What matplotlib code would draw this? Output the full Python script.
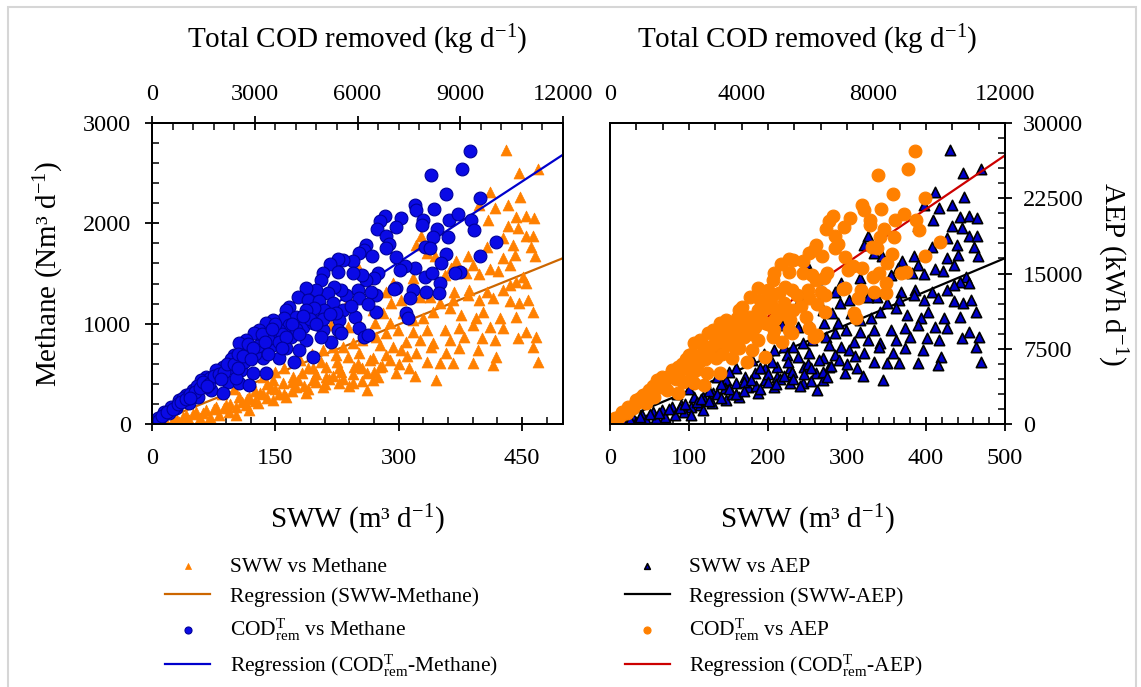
import matplotlib
matplotlib.use('Agg')
import matplotlib.pyplot as plt
from matplotlib.ticker import MultipleLocator
from matplotlib.patches import Rectangle

plt.rcParams['font.family'] = ['Liberation Serif', 'DejaVu Serif']
plt.rcParams['mathtext.fontset'] = 'custom'
plt.rcParams['mathtext.rm'] = 'Liberation Serif'
plt.rcParams['mathtext.it'] = 'Liberation Serif:italic'
plt.rcParams['mathtext.bf'] = 'Liberation Serif:bold'

# SWW flow (m3/d) vs methane (Nm3/d)
sww = [431, 447, 470, 411, 448, 398, 417, 433, 409, 443,
       455, 465, 390, 433, 445, 455, 464, 427, 327, 321,
       334, 344, 407, 439, 461, 466, 441, 385, 370, 390,
       427, 435, 411, 421, 398, 382, 364, 356, 317, 451,
       443, 435, 455, 427, 407, 386, 368, 415, 398, 385,
       366, 350, 338, 326, 303, 293, 285, 291, 447, 435,
       457, 463, 443, 423, 403, 394, 376, 362, 342, 330,
       317, 305, 281, 269, 265, 252, 238, 228, 218, 271,
       289, 427, 411, 390, 374, 356, 334, 317, 299, 285,
       273, 256, 244, 232, 220, 208, 467, 445, 455, 417,
       401, 380, 362, 342, 326, 309, 293, 277, 463, 419,
       396, 374, 358, 340, 321, 303, 285, 269, 252, 238,
       224, 469, 415, 390, 366, 350, 334, 313, 297, 277,
       261, 246, 228, 212, 196, 346, 320, 269, 262, 244,
       228, 212, 196, 183, 171, 175, 159, 147, 145, 163,
       147, 131, 118, 106, 187, 208, 129, 114, 102, 90,
       78, 66, 54, 41, 29, 17, 94, 82, 70, 58,
       45, 33, 102, 118, 248, 262, 240, 160, 180, 195,
       205, 150, 135, 120, 100, 85, 125, 140, 155, 170,
       185, 200, 215, 230, 250, 265, 225, 190, 10, 25,
       38, 50, 62, 75, 88, 95, 110, 115, 125, 135,
       140, 150, 160, 170, 178, 190, 200, 210, 220, 232,
       245, 255, 270, 280, 290, 300, 310, 240, 255, 275]
methane_sww = [2727, 2501, 2541, 2308, 2262, 2178, 2152, 2185, 2035, 2062,
               2075, 2052, 1969, 1969, 1952, 1876, 1869, 1853, 1876, 1786,
               1703, 1670, 1769, 1786, 1769, 1670, 1686, 1670, 1620, 1586,
               1653, 1586, 1543, 1520, 1497, 1503, 1553, 1487, 1453, 1470,
               1420, 1387, 1404, 1337, 1320, 1337, 1320, 1254, 1237, 1287,
               1237, 1204, 1270, 1270, 1237, 1404, 1320, 1204, 1204, 1221,
               1237, 1121, 1071, 1054, 1121, 1054, 1088, 1154, 1121, 1054,
               1038, 1104, 1104, 1137, 1204, 1004, 971, 938, 988, 1004,
               1004, 954, 971, 988, 954, 938, 938, 921, 938, 904,
               871, 838, 805, 771, 771, 738, 871, 855, 921, 838,
               855, 871, 838, 805, 838, 822, 771, 788, 771, 672,
               738, 755, 705, 771, 705, 738, 688, 655, 705, 672,
               688, 622, 589, 605, 605, 605, 622, 555, 506, 572,
               506, 572, 555, 572, 555, 439, 480, 439, 339, 406,
               406, 472, 439, 506, 472, 372, 406, 439, 356, 273,
               239, 306, 273, 273, 306, 372, 206, 190, 173, 190,
               173, 140, 123, 90, 57, 23, 123, 90, 73, 57,
               40, 23, 90, 140, 1603, 1450, 1250, 560, 640, 700,
               620, 520, 470, 420, 350, 300, 330, 400, 300, 420,
               380, 500, 450, 520, 600, 640, 620, 560, 20, 40,
               70, 100, 110, 150, 160, 200, 220, 250, 230, 300,
               260, 350, 300, 330, 440, 350, 420, 400, 480, 450,
               500, 560, 520, 580, 640, 600, 680, 380, 430, 470]
# same samples, AEP (kWh/d)
aep_sww = [27270, 25010, 25410, 23080, 22620, 21780, 21520, 21850, 20350, 20620,
           20750, 20520, 19690, 19690, 19520, 18760, 18690, 18530, 18760, 17860,
           17030, 16700, 17690, 17860, 17690, 16700, 16860, 16700, 16200, 15860,
           16530, 15860, 15430, 15200, 14970, 15030, 15530, 14870, 14530, 14700,
           14200, 13870, 14040, 13370, 13200, 13370, 13200, 12540, 12370, 12870,
           12370, 12040, 12700, 12700, 12370, 14040, 13200, 12040, 12040, 12210,
           12370, 11210, 10710, 10540, 11210, 10540, 10880, 11540, 11210, 10540,
           10380, 11040, 11040, 11370, 12040, 10040, 9710, 9380, 9880, 10040,
           10040, 9540, 9710, 9880, 9540, 9380, 9380, 9210, 9380, 9040,
           8710, 8380, 8050, 7710, 7710, 7380, 8710, 8550, 9210, 8380,
           8550, 8710, 8380, 8050, 8380, 8220, 7710, 7880, 7710, 6720,
           7380, 7550, 7050, 7710, 7050, 7380, 6880, 6550, 7050, 6720,
           6880, 6220, 5890, 6050, 6050, 6050, 6220, 5550, 5060, 5720,
           5060, 5720, 5550, 5720, 5550, 4390, 4800, 4390, 3390, 4060,
           4060, 4720, 4390, 5060, 4720, 3720, 4060, 4390, 3560, 2730,
           2390, 3060, 2730, 2730, 3060, 3720, 2060, 1900, 1730, 1900,
           1730, 1400, 1230, 900, 570, 230, 1230, 900, 730, 570,
           400, 230, 900, 1400, 16030, 14500, 12500, 5600, 6400, 7000,
           6200, 5200, 4700, 4200, 3500, 3000, 3300, 4000, 3000, 4200,
           3800, 5000, 4500, 5200, 6000, 6400, 6200, 5600, 200, 400,
           700, 1000, 1100, 1500, 1600, 2000, 2200, 2500, 2300, 3000,
           2600, 3500, 3000, 3300, 4400, 3500, 4200, 4000, 4800, 4500,
           5000, 5600, 5200, 5800, 6400, 6000, 6800, 3800, 4300, 4700]

# total COD removed (kg/d) vs methane
cod = [9272, 8133, 9058, 8591, 9565, 7665, 7714, 8230, 7276, 6789,
       6643, 7909, 7890, 8659, 8932, 9302, 9399, 7110, 6574, 6837,
       8328, 8640, 8201, 10032, 6915, 6837, 6253, 6185, 6428, 7958,
       8103, 9565, 8571, 7129, 6058, 5863, 5571, 5425, 5201, 8425,
       7665, 7392, 7227, 8981, 8834, 7977, 8172, 8396, 8006, 8376,
       7617, 7539, 7129, 7080, 6594, 6496, 6253, 6136, 5863, 5425,
       4987, 4938, 6545, 6399, 6009, 6058, 5668, 5522, 5327, 5133,
       4792, 4500, 4256, 4548, 4889, 5279, 5571, 6545, 7422, 7471,
       5941, 5474, 5377, 5036, 4743, 4500, 4013, 3916, 4208, 3867,
       3526, 3331, 4013, 4402, 4695, 4987, 5425, 6058, 6204, 6302,
       5522, 5230, 4938, 4500, 4061, 3721, 3477, 3136, 2990, 2747,
       2552, 2406, 2844, 3185, 3526, 3916, 4305, 4695, 3234, 3721,
       4159, 2065, 2308, 2600, 2941, 3331, 1870, 1578, 2211, 2552,
       2844, 1188, 1432, 993, 799, 555, 360, 166, 19, 1724,
       2065, 2455, 1578, 1334, 1091, 701, 506, 214, 3000, 3400,
       3800, 4200, 2700, 3600, 4600, 5000, 5800, 6300, 1300, 1700,
       900, 2300, 3100, 300, 450, 600, 750, 850, 1000, 1100,
       1250, 1400, 1500, 1650, 1800, 1950, 2100, 2200, 2400, 2500,
       2650, 2800, 2950, 3200, 3300, 3500, 3700, 3900, 4100, 4300,
       4400, 4800, 5200, 1100, 1600, 2000, 2500, 2900, 3400, 3800]
methane_cod = [2717, 2485, 2541, 2292, 2252, 2185, 2135, 2145, 2052, 2069,
               2019, 2035, 1986, 2035, 2095, 2035, 1936, 1962, 1942, 1869,
               1942, 1859, 1859, 1813, 1793, 1753, 1786, 1736, 1670, 1763,
               1753, 1676, 1693, 1660, 1703, 1620, 1630, 1643, 1593, 1603,
               1553, 1570, 1537, 1510, 1503, 1470, 1503, 1410, 1320, 1304,
               1337, 1254, 1360, 1347, 1503, 1453, 1437, 1487, 1503, 1510,
               1503, 1437, 1287, 1320, 1337, 1254, 1287, 1337, 1370, 1310,
               1337, 1354, 1270, 1237, 1221, 1204, 1137, 1121, 1104, 1054,
               1071, 1038, 1104, 1137, 1154, 1137, 1171, 1137, 1071, 1054,
               1038, 1004, 988, 971, 1004, 938, 938, 954, 871, 888,
               904, 822, 871, 838, 871, 938, 921, 938, 904, 838,
               805, 688, 738, 805, 788, 755, 738, 672, 655, 655,
               622, 572, 555, 539, 506, 506, 539, 472, 422, 406,
               389, 339, 439, 289, 239, 173, 123, 57, 7, 339,
               306, 456, 372, 273, 206, 156, 106, 40, 700, 850,
               900, 950, 620, 1000, 1050, 1050, 1180, 1200, 380, 460,
               260, 650, 780, 80, 120, 150, 200, 220, 250, 300,
               320, 360, 420, 400, 480, 500, 520, 600, 600, 700,
               680, 800, 760, 900, 820, 950, 820, 870, 1000, 900,
               1080, 1000, 1100, 260, 380, 450, 560, 650, 700, 760]
aep_cod = [27170, 24850, 25410, 22920, 22520, 21850, 21350, 21450, 20520, 20690,
           20190, 20350, 19860, 20350, 20950, 20350, 19360, 19620, 19420, 18690,
           19420, 18590, 18590, 18130, 17930, 17530, 17860, 17360, 16700, 17630,
           17530, 16760, 16930, 16600, 17030, 16200, 16300, 16430, 15930, 16030,
           15530, 15700, 15370, 15100, 15030, 14700, 15030, 14100, 13200, 13040,
           13370, 12540, 13600, 13470, 15030, 14530, 14370, 14870, 15030, 15100,
           15030, 14370, 12870, 13200, 13370, 12540, 12870, 13370, 13700, 13100,
           13370, 13540, 12700, 12370, 12210, 12040, 11370, 11210, 11040, 10540,
           10710, 10380, 11040, 11370, 11540, 11370, 11710, 11370, 10710, 10540,
           10380, 10040, 9880, 9710, 10040, 9380, 9380, 9540, 8710, 8880,
           9040, 8220, 8710, 8380, 8710, 9380, 9210, 9380, 9040, 8380,
           8050, 6880, 7380, 8050, 7880, 7550, 7380, 6720, 6550, 6550,
           6220, 5720, 5550, 5390, 5060, 5060, 5390, 4720, 4220, 4060,
           3890, 3390, 4390, 2890, 2390, 1730, 1230, 570, 70, 3390,
           3060, 4560, 3720, 2730, 2060, 1560, 1060, 400, 7000, 8500,
           9000, 9500, 6200, 10000, 10500, 10500, 11800, 12000, 3800, 4600,
           2600, 6500, 7800, 800, 1200, 1500, 2000, 2200, 2500, 3000,
           3200, 3600, 4200, 4000, 4800, 5000, 5200, 6000, 6000, 7000,
           6800, 8000, 7600, 9000, 8200, 9500, 8200, 8700, 10000, 9000,
           10800, 10000, 11000, 2600, 3800, 4500, 5600, 6500, 7000, 7600]

# regression slopes (lines through origin)
slope_sww_methane = 3.306
slope_cod_methane = 0.2237
slope_sww_aep = 33.06
slope_cod_aep = 2.231

W, H = 1141, 687
fig = plt.figure(figsize=(W / 100, H / 100), dpi=100)

orange = '#FF8000'
blue = '#0A0AE6'
tick_fs = 17.5
label_fs = 21

def style_major_minor(axis_obj, major_dir, minor_dir):
    axis_obj.tick_params(which='major', direction=major_dir, length=10 if major_dir == 'inout' else 6,
                         width=1.3, labelsize=tick_fs)
    axis_obj.tick_params(which='minor', direction=minor_dir, length=5, width=1.1)

# ---------------- left panel: methane ----------------
ax1 = fig.add_axes([152 / W, 1 - 424 / H, (563 - 152) / W, (424 - 123) / H])
ax1.set_xlim(0, 500)
ax1.set_ylim(0, 3000)
ax1.xaxis.set_major_locator(MultipleLocator(150))
ax1.xaxis.set_minor_locator(MultipleLocator(30))
ax1.yaxis.set_major_locator(MultipleLocator(1000))
ax1.yaxis.set_minor_locator(MultipleLocator(200))
style_major_minor(ax1, 'inout', 'in')
ax1.tick_params(axis='x', which='major', pad=12)
ax1.tick_params(axis='y', which='major', pad=10)
ax1.tick_params(right=False, top=False, which='both')

l1, = ax1.plot(ax1.get_xlim(), [slope_sww_methane * x for x in ax1.get_xlim()],
               color='#CC6600', lw=1.6, zorder=1)
s1 = ax1.scatter(sww, methane_sww, marker='^', s=62, color=orange, edgecolors=orange,
                 linewidths=0.5, zorder=2)
ax1.set_xlabel('SWW (m³ d$^{-1}$)', fontsize=label_fs, labelpad=25)
ax1.set_ylabel('Methane (Nm³ d$^{-1}$)', fontsize=label_fs, labelpad=12)

ax1t = ax1.twiny()
ax1t.set_xlim(0, 12000)
ax1t.xaxis.set_major_locator(MultipleLocator(3000))
ax1t.xaxis.set_minor_locator(MultipleLocator(600))
style_major_minor(ax1t, 'inout', 'in')
ax1t.tick_params(axis='x', which='major', pad=8)
l2, = ax1t.plot(ax1t.get_xlim(), [slope_cod_methane * x for x in ax1t.get_xlim()],
                color='#0000CC', lw=1.6, zorder=1)
s2 = ax1t.scatter(cod, methane_cod, marker='o', s=85, color=blue, edgecolors='#00009A',
                  linewidths=0.8, zorder=2)
ax1t.set_xlabel('Total COD removed (kg d$^{-1}$)', fontsize=label_fs, labelpad=26)

# ---------------- right panel: AEP ----------------
ax2 = fig.add_axes([610 / W, 1 - 424 / H, (1005 - 610) / W, (424 - 123) / H])
ax2.set_xlim(0, 500)
ax2.set_ylim(0, 30000)
ax2.xaxis.set_major_locator(MultipleLocator(100))
ax2.xaxis.set_minor_locator(MultipleLocator(20))
ax2.yaxis.set_major_locator(MultipleLocator(7500))
ax2.yaxis.set_minor_locator(MultipleLocator(1500))
ax2.yaxis.tick_right()
ax2.yaxis.set_label_position('right')
style_major_minor(ax2, 'inout', 'in')
ax2.tick_params(axis='x', which='major', pad=12)
ax2.tick_params(axis='y', which='major', pad=8)
ax2.tick_params(left=False, top=False, which='both')

l3, = ax2.plot(ax2.get_xlim(), [slope_sww_aep * x for x in ax2.get_xlim()],
               color='black', lw=1.6, zorder=1)
s3 = ax2.scatter(sww, aep_sww, marker='^', s=55, color='#0000CC', edgecolors='black',
                 linewidths=1.2, zorder=2)
ax2.set_xlabel('SWW (m³ d$^{-1}$)', fontsize=label_fs, labelpad=25)
ax2.set_ylabel('AEP (kWh d$^{-1}$)', fontsize=label_fs, rotation=270, va='bottom', labelpad=8)

ax2t = ax2.twiny()
ax2t.set_xlim(0, 12000)
ax2t.xaxis.set_major_locator(MultipleLocator(4000))
ax2t.xaxis.set_minor_locator(MultipleLocator(800))
ax2t.tick_params(which='both', direction='in', length=5, width=1.2, labelsize=tick_fs, pad=13)
l4, = ax2t.plot(ax2t.get_xlim(), [slope_cod_aep * x for x in ax2t.get_xlim()],
                color='#CC0000', lw=1.6, zorder=1)
s4 = ax2t.scatter(cod, aep_cod, marker='o', s=85, color=orange, edgecolors=orange,
                  linewidths=0.8, zorder=2)
ax2t.set_xlabel('Total COD removed (kg d$^{-1}$)', fontsize=label_fs, labelpad=26)

for a in (ax1, ax1t, ax2, ax2t):
    for sp in a.spines.values():
        sp.set_linewidth(1.4)

handles = [s1, l1, s2, l2, s3, l3, s4, l4]
labels = ['SWW vs Methane', 'Regression (SWW-Methane)',
          r'COD$^{\mathrm{T}}_{\mathrm{rem}}$ vs Methane',
          r'Regression (COD$^{\mathrm{T}}_{\mathrm{rem}}$-Methane)',
          'SWW vs AEP', 'Regression (SWW-AEP)',
          r'COD$^{\mathrm{T}}_{\mathrm{rem}}$ vs AEP',
          r'Regression (COD$^{\mathrm{T}}_{\mathrm{rem}}$-AEP)']
fig.legend(handles, labels, ncol=2, loc='upper left', bbox_to_anchor=(165 / W, 1 - 557 / H),
           frameon=False, fontsize=15.5, handlelength=2.1, handletextpad=0.9,
           columnspacing=5.9, labelspacing=0.45, borderpad=0, borderaxespad=0,
           markerscale=0.55, scatterpoints=1)

# light frame around the figure, as in the source
fig.add_artist(Rectangle((8 / W, -0.05), (1136 - 8) / W, 1.05 - 7 / H, transform=fig.transFigure,
                         fill=False, edgecolor='#d6d6d6', lw=1.5))

fig.savefig('out.png', dpi=100)
